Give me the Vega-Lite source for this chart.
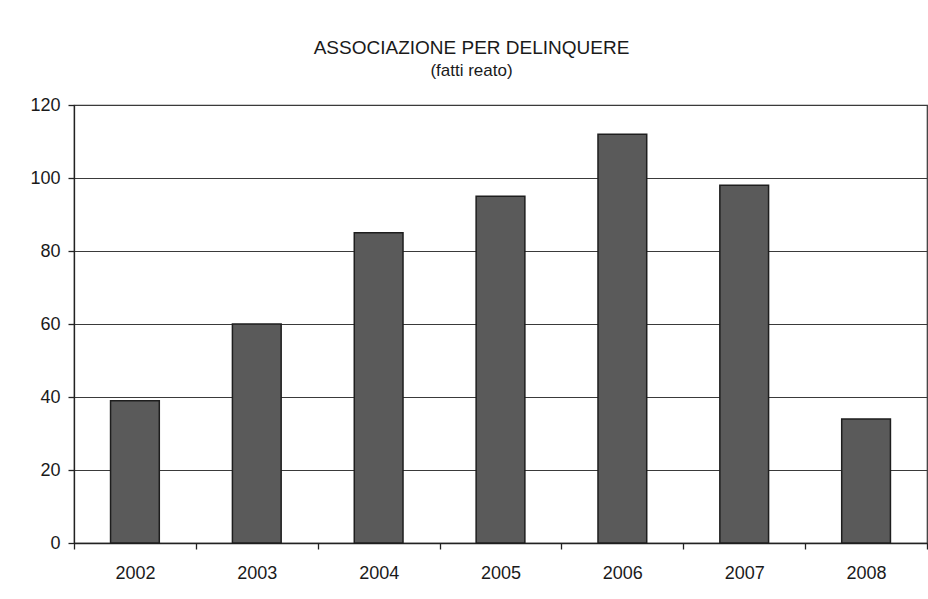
{
  "$schema": "https://vega.github.io/schema/vega-lite/v6.json",
  "autosize": {"type": "none"},
  "width": 853,
  "height": 438,
  "padding": {"left": 74, "top": 105, "right": 1, "bottom": 56},
  "background": "white",
  "title": {
    "text": "ASSOCIAZIONE PER DELINQUERE",
    "subtitle": "(fatti reato)",
    "anchor": "middle",
    "dx": -29,
    "offset": 17,
    "font": "Liberation Sans",
    "fontSize": 19,
    "fontWeight": "normal",
    "color": "#1a1a1a",
    "subtitleFont": "Liberation Sans",
    "subtitleFontSize": 17,
    "subtitleColor": "#1a1a1a",
    "subtitlePadding": 5
  },
  "data": {
    "values": [
      {"anno": "2002", "valore": 39},
      {"anno": "2003", "valore": 60},
      {"anno": "2004", "valore": 85},
      {"anno": "2005", "valore": 95},
      {"anno": "2006", "valore": 112},
      {"anno": "2007", "valore": 98},
      {"anno": "2008", "valore": 34}
    ]
  },
  "mark": {
    "type": "bar",
    "width": {"band": 0.4},
    "fill": "#5a5a5a",
    "stroke": "#1e1e1e",
    "strokeWidth": 1.5
  },
  "encoding": {
    "x": {
      "field": "anno",
      "type": "nominal",
      "scale": {"paddingInner": 0, "paddingOuter": 0},
      "axis": {
        "title": null,
        "labelAngle": 0,
        "tickBand": "extent",
        "tickSize": 6,
        "labelPadding": 15,
        "labelFont": "Liberation Sans",
        "labelFontSize": 18,
        "labelColor": "#1a1a1a",
        "domainColor": "#222",
        "domainWidth": 1.3,
        "tickColor": "#222",
        "tickWidth": 1.3,
        "grid": false
      }
    },
    "y": {
      "field": "valore",
      "type": "quantitative",
      "scale": {"domain": [0, 120], "nice": false},
      "axis": {
        "title": null,
        "values": [0, 20, 40, 60, 80, 100, 120],
        "tickSize": 6,
        "labelPadding": 8,
        "labelFont": "Liberation Sans",
        "labelFontSize": 18,
        "labelColor": "#1a1a1a",
        "domainColor": "#222",
        "domainWidth": 1.3,
        "tickColor": "#222",
        "tickWidth": 1.3,
        "grid": true,
        "gridColor": "#3a3a3a",
        "gridWidth": 1.2,
        "gridOpacity": 1
      }
    }
  },
  "config": {
    "view": {"stroke": "#333", "strokeWidth": 1.2}
  }
}
